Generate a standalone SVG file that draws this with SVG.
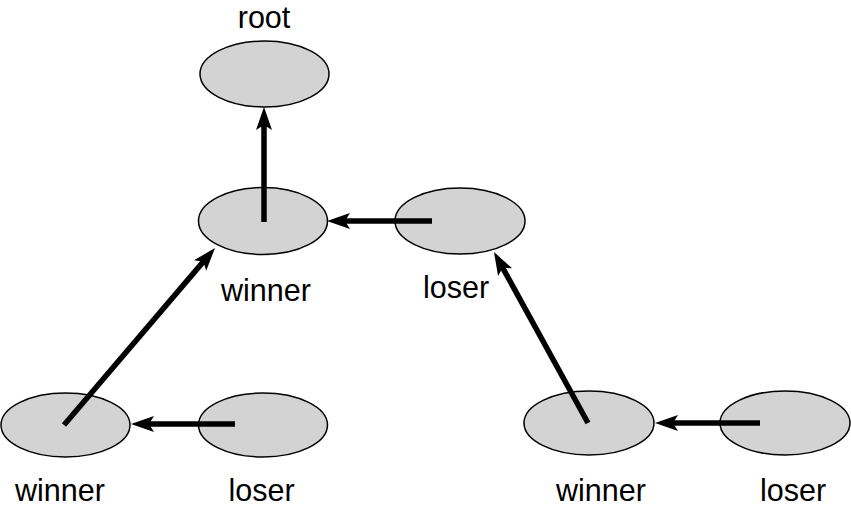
<svg xmlns="http://www.w3.org/2000/svg" width="851" height="508" viewBox="0 0 851 508">
<style>
.node{fill:#d3d3d3;stroke:#000;stroke-width:1.5}
.lbl{font-family:"Liberation Sans",Arial,sans-serif;font-size:30.5px;fill:#000;text-anchor:middle}
.edge{stroke:#000;stroke-width:5.5;fill:none;marker-end:url(#ah)}
</style>
<defs>
<marker id="ah" markerUnits="userSpaceOnUse" viewBox="-10 -10 40 20" refX="8" refY="0" markerWidth="40" markerHeight="20" orient="auto" overflow="visible">
<path d="M0,-8 L23,0 L0,8 L5,0 Z" fill="#000"/>
</marker>
</defs>
<rect width="851" height="508" fill="#fff"/>
<g id="root"><ellipse class="node" cx="264.5" cy="74" rx="64.5" ry="33"/><text class="lbl" x="264" y="28">root</text></g>
<g id="winner-mid"><ellipse class="node" cx="263" cy="221" rx="64.5" ry="33.5"/><text class="lbl" x="266" y="301">winner</text></g>
<g id="loser-mid"><ellipse class="node" cx="460" cy="221" rx="65" ry="33"/><text class="lbl" x="456" y="298">loser</text></g>
<g id="winner-bl"><ellipse class="node" cx="65.5" cy="425" rx="64.5" ry="32"/><text class="lbl" x="60" y="501">winner</text></g>
<g id="loser-bl"><ellipse class="node" cx="263" cy="425" rx="64.5" ry="32"/><text class="lbl" x="261.5" y="501">loser</text></g>
<g id="winner-br"><ellipse class="node" cx="589" cy="423" rx="65" ry="32"/><text class="lbl" x="601" y="501">winner</text></g>
<g id="loser-br"><ellipse class="node" cx="785" cy="423" rx="65" ry="32"/><text class="lbl" x="793" y="501">loser</text></g>
<g id="connectors">
<line class="edge" x1="264" y1="222" x2="264" y2="122"/>
<line class="edge" x1="432" y1="221" x2="342" y2="221"/>
<line class="edge" x1="235" y1="424" x2="146" y2="424"/>
<line class="edge" x1="760" y1="423" x2="670" y2="423"/>
<line class="edge" x1="64" y1="425" x2="205.3" y2="259.4"/>
<line class="edge" x1="588" y1="423" x2="501.2" y2="265.1"/>
</g>
</svg>
